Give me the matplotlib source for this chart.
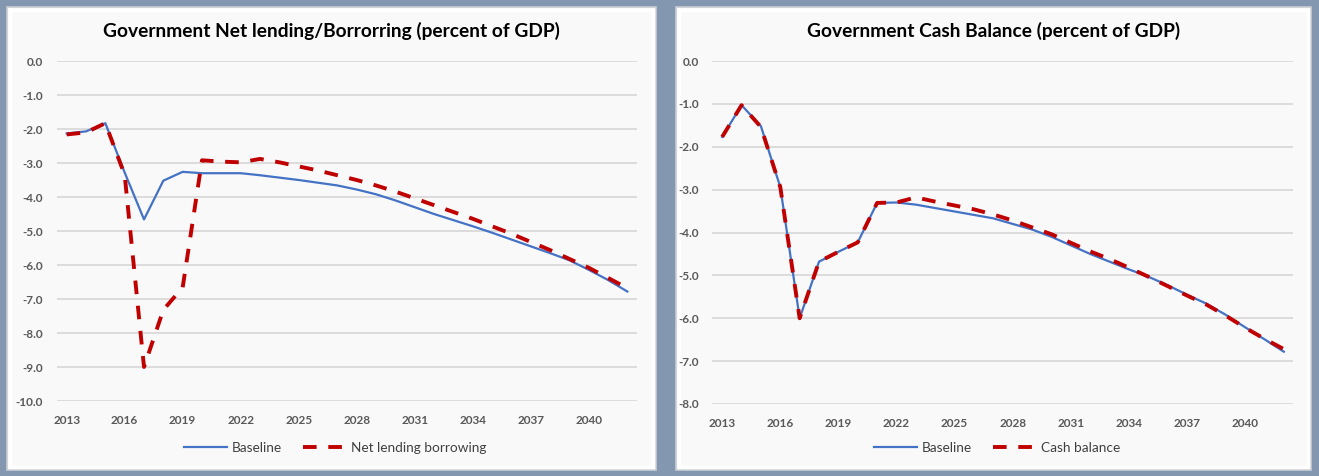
"""
Two panel line chart: government net lending and cash balance, baseline vs scenario.
"""

import matplotlib.pyplot as plt
from matplotlib.patches import Rectangle

# Data (percent of GDP)
years = list(range(2013, 2043))

baseline_net = [-2.13, -2.07, -1.83, -3.28, -4.66, -3.52, -3.26, -3.30, -3.30, -3.30,
                -3.36, -3.43, -3.50, -3.58, -3.66, -3.78, -3.92, -4.10, -4.30, -4.50,
                -4.68, -4.86, -5.05, -5.25, -5.45, -5.65, -5.86, -6.14, -6.44, -6.78]
net_lending = [-2.16, -2.10, -1.83, -3.35, -9.00, -7.32, -6.66, -2.92, -2.96, -2.98,
               -2.88, -2.98, -3.10, -3.22, -3.36, -3.50, -3.66, -3.84, -4.04, -4.24,
               -4.44, -4.64, -4.86, -5.08, -5.32, -5.56, -5.82, -6.08, -6.38, -6.68]

baseline_cash = [-1.77, -1.03, -1.52, -2.94, -6.00, -4.68, -4.45, -4.23, -3.31, -3.30,
                 -3.35, -3.43, -3.51, -3.59, -3.67, -3.80, -3.93, -4.10, -4.30, -4.50,
                 -4.68, -4.86, -5.03, -5.23, -5.45, -5.66, -5.92, -6.21, -6.49, -6.78]
cash_balance = [-1.77, -1.03, -1.54, -2.94, -6.00, -4.68, -4.45, -4.23, -3.31, -3.30,
                -3.18, -3.28, -3.37, -3.46, -3.58, -3.72, -3.88, -4.04, -4.24, -4.44,
                -4.62, -4.82, -5.03, -5.25, -5.47, -5.68, -5.94, -6.22, -6.48, -6.72]

xticks = list(range(2013, 2041, 3))

W, H = 1319, 476
BG = '#8497B0'
PANEL = '#F9F9F9'
BLUE = '#4472C4'
RED = '#C00000'
GRID = '#D9D9D9'
TICK = '#595959'

plt.rcParams['font.family'] = ['Lato', 'DejaVu Sans']

fig = plt.figure(figsize=(W / 100, H / 100), dpi=100, facecolor=BG)


def px_rect(x0, y0, x1, y1):
    """Pixel box (top-left origin) -> figure fraction [left, bottom, width, height]."""
    return [x0 / W, 1 - y1 / H, (x1 - x0) / W, (y1 - y0) / H]


panels = [
    dict(box=(7, 7, 656, 470), ax=(57, 61, 637, 401), ylim=(-10, 0),
         title='Government Net lending/Borrorring (percent of GDP)',
         base=baseline_net, alt=net_lending, alt_label='Net lending borrowing',
         legend_x=335),
    dict(box=(676, 7, 1311, 470), ax=(712.5, 61, 1293.5, 404), ylim=(-8, 0),
         title='Government Cash Balance (percent of GDP)',
         base=baseline_cash, alt=cash_balance, alt_label='Cash balance',
         legend_x=997),
]

for p in panels:
    x0, y0, x1, y1 = p['box']
    l, b, w, h = px_rect(x0, y0, x1, y1)
    # panel card with a soft bevel edge (behind the axes)
    fig.patches.append(Rectangle((l, b), w, h, transform=fig.transFigure,
                                 facecolor=PANEL, edgecolor='#C8CCD2',
                                 linewidth=1.2, zorder=-2))
    fig.patches.append(Rectangle((l + 3 / W, b + 3 / H), w - 6 / W, h - 6 / H,
                                 transform=fig.transFigure, facecolor='none',
                                 edgecolor='#FFFFFF', linewidth=2.5, zorder=-1))

    ax = fig.add_axes(px_rect(*p['ax']))
    ax.patch.set_alpha(0)
    ax.plot(years, p['base'], color=BLUE, linewidth=1.6, label='Baseline', zorder=3)
    ax.plot(years, p['alt'], color=RED, linewidth=2.8, linestyle=(0, (3.5, 3)),
            label=p['alt_label'], zorder=4)

    ax.set_xlim(2012.5, 2042.5)
    ax.set_ylim(*p['ylim'])
    ax.set_yticks(range(p['ylim'][0], 1))
    ax.set_yticklabels([f'{v:.1f}' for v in range(p['ylim'][0], 1)])
    ax.set_xticks(xticks)
    ax.grid(axis='y', color=GRID, linewidth=1.3)
    ax.set_axisbelow(True)
    for s in ax.spines.values():
        s.set_visible(False)
    ax.tick_params(axis='both', length=0, labelsize=8.5, labelcolor=TICK)
    ax.tick_params(axis='y', pad=10)
    ax.tick_params(axis='x', pad=10)
    for t in ax.get_xticklabels() + ax.get_yticklabels():
        t.set_fontweight('bold')

    fig.text((x0 + x1) / 2 / W, 1 - 31 / H, p['title'], ha='center', va='center',
             fontsize=13.8, fontweight='bold', color='#000000')

    ax.legend(loc='center', bbox_to_anchor=(p['legend_x'] / W, 1 - 448 / H),
              bbox_transform=fig.transFigure, ncol=2, frameon=False,
              fontsize=9.8, labelcolor='#404040', handlelength=3.2,
              handletextpad=0.3, columnspacing=1.6)

fig.savefig('out.png', dpi=100, facecolor=BG)
